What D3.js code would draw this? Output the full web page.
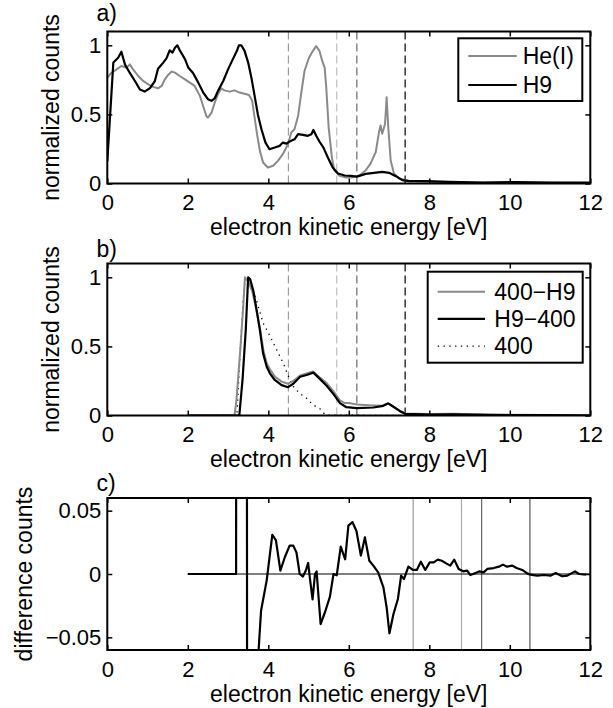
<!DOCTYPE html>
<html>
<head>
<meta charset="utf-8">
<script src="https://cdn.jsdelivr.net/npm/d3@7"></script>
<style>
body { margin: 0; background: #fff; }
svg { font-family: "Liberation Sans", Arial, Helvetica, sans-serif; }
</style>
</head>
<body>
<div id="chart"></div>
<script>
// ---- data ----
const xTicks = [0, 2, 4, 6, 8, 10, 12];
const yTicksAB = [0, 0.5, 1];
const yTicksC = [-0.05, 0, 0.05];

// energies of the vertical marker lines
const markersAB = [4.5, 5.7, 6.2, 7.4];
const markersC = [7.6, 8.8, 9.3, 10.5];

// panel a
const heI = [[0,0.766],[0.1,0.8],[0.23,0.826],[0.35,0.85],[0.48,0.838],[0.56,0.862],[0.64,0.826],[0.77,0.778],
  [0.89,0.742],[1.02,0.718],[1.14,0.699],[1.26,0.689],[1.35,0.706],[1.43,0.754],[1.51,0.786],[1.6,0.81],
  [1.68,0.802],[1.8,0.778],[1.93,0.754],[2.05,0.73],[2.17,0.706],[2.3,0.634],[2.38,0.561],[2.46,0.489],
  [2.5,0.477],[2.59,0.513],[2.67,0.586],[2.75,0.646],[2.83,0.689],[2.91,0.674],[3.04,0.665],[3.16,0.674],
  [3.29,0.658],[3.41,0.65],[3.52,0.641],[3.6,0.598],[3.66,0.477],[3.72,0.357],[3.79,0.236],[3.87,0.152],
  [3.99,0.116],[4.12,0.128],[4.24,0.164],[4.36,0.212],[4.49,0.284],[4.57,0.369],[4.65,0.393],[4.74,0.489],
  [4.82,0.658],[4.9,0.814],[5.01,0.91],[5.11,0.96],[5.19,0.995],[5.27,0.96],[5.34,0.887],[5.4,0.838],
  [5.44,0.694],[5.5,0.405],[5.58,0.188],[5.64,0.096],[5.77,0.055],[5.93,0.043],[6.1,0.045],[6.28,0.06],
  [6.42,0.096],[6.54,0.144],[6.67,0.228],[6.75,0.372],[6.79,0.42],[6.83,0.36],[6.9,0.43],[6.94,0.624],
  [6.98,0.408],[7.04,0.168],[7.12,0.072],[7.25,0.036],[7.5,0.019],[8,0.012],[9,0.008],[10,0.006],
  [11,0.005],[12,0.004]];
const h9 = [[0,0.16],[0.15,0.875],[0.27,0.91],[0.35,0.954],[0.44,0.86],[0.56,0.8],[0.69,0.74],[0.81,0.68],
  [0.93,0.665],[1.06,0.69],[1.18,0.74],[1.26,0.83],[1.39,0.875],[1.47,0.906],[1.55,0.964],[1.62,0.947],
  [1.68,0.983],[1.74,1.0],[1.8,0.964],[1.93,0.9],[2.01,0.84],[2.13,0.8],[2.26,0.73],[2.38,0.66],
  [2.5,0.61],[2.59,0.598],[2.67,0.617],[2.75,0.67],[2.88,0.742],[3.0,0.826],[3.12,0.9],[3.22,0.96],
  [3.27,1.0],[3.33,1.0],[3.41,0.96],[3.5,0.875],[3.58,0.766],[3.66,0.634],[3.74,0.5],[3.83,0.393],
  [3.93,0.296],[4.03,0.248],[4.16,0.26],[4.28,0.272],[4.36,0.296],[4.45,0.289],[4.53,0.304],[4.65,0.32],
  [4.74,0.357],[4.86,0.352],[4.98,0.345],[5.07,0.357],[5.12,0.388],[5.19,0.345],[5.27,0.304],[5.37,0.26],
  [5.48,0.188],[5.6,0.116],[5.73,0.072],[5.9,0.058],[6.05,0.055],[6.2,0.05],[6.42,0.07],[6.83,0.084],
  [7.0,0.077],[7.17,0.053],[7.33,0.024],[7.5,0.017],[7.92,0.017],[8.5,0.012],[9.33,0.007],[10.15,0.01],
  [11,0.007],[12,0.007]];

// panel b
const s400H9 = [[2,0],[3.16,0],[3.21,0.115],[3.31,0.5],[3.38,0.8],[3.42,1.0],[3.5,0.97],[3.6,0.9],[3.7,0.77],
  [3.8,0.62],[3.88,0.47],[3.96,0.38],[4.05,0.33],[4.17,0.28],[4.33,0.245],[4.49,0.23],[4.62,0.25],
  [4.79,0.29],[4.95,0.305],[5.11,0.318],[5.28,0.275],[5.45,0.235],[5.62,0.175],[5.78,0.11],[5.9,0.09],
  [6.0,0.09],[6.2,0.08],[6.5,0.075],[6.8,0.07],[6.98,0.085],[7.1,0.065],[7.27,0.035],[7.4,0.015],
  [8,0.01],[8.6,0.012],[9.5,0.006],[11,0.003],[12,0.002]];
const sH9400 = [[2,0],[3.28,0],[3.36,0.26],[3.44,0.62],[3.5,1.0],[3.55,0.985],[3.63,0.9],[3.71,0.763],
  [3.79,0.62],[3.87,0.45],[3.96,0.353],[4.04,0.305],[4.16,0.257],[4.33,0.22],[4.49,0.205],[4.62,0.23],
  [4.79,0.28],[4.95,0.293],[5.12,0.31],[5.28,0.265],[5.45,0.215],[5.62,0.155],[5.78,0.09],[5.94,0.06],
  [6.2,0.053],[6.61,0.058],[6.86,0.07],[6.98,0.088],[7.1,0.065],[7.27,0.031],[7.4,0.012],[8.03,0.007],
  [8.6,0.008],[9.5,0.004],[10.95,0.002],[12,0]];
const s400 = [[2,0],[3.22,0],[3.3,0.45],[3.38,0.85],[3.43,1.0],[3.5,0.98],[3.58,0.95],[3.71,0.83],
  [3.87,0.67],[4.04,0.576],[4.2,0.48],[4.37,0.38],[4.49,0.29],[4.62,0.21],[4.78,0.16],[4.95,0.125],
  [5.11,0.077],[5.28,0.05],[5.4,0.01],[5.5,0.003],[7.4,0]];

// panel c
const diffC = [[2,0],[3.2,0],[3.21,0.6],[3.46,0.6],[3.48,-0.5],[3.72,-0.08],[3.82,-0.029],[3.96,-0.005],
  [4.10,0.031],[4.19,0.0266],[4.30,0.0026],[4.41,0.0132],[4.53,0.0224],[4.62,0.0224],[4.70,0.017],
  [4.78,0.0],[4.86,-0.002],[4.93,0.0026],[4.99,0.0087],[5.04,-0.005],[5.10,-0.02],[5.16,0.0],[5.2,0.002],
  [5.30,-0.0395],[5.41,-0.030],[5.53,-0.018],[5.62,0],[5.70,-0.001],[5.80,0.0216],[5.91,0.0116],
  [5.99,0.0382],[6.09,0.041],[6.19,0.034],[6.30,0.0145],[6.40,0.0289],[6.51,0.0105],[6.61,0.0066],
  [6.73,0.0013],[6.86,-0.0105],[6.94,-0.0263],[7.01,-0.0468],[7.11,-0.0316],[7.22,-0.0197],[7.30,-0.0013],
  [7.37,-0.004],[7.48,0.0058],[7.59,0.0032],[7.69,0.0032],[7.79,0.0097],[7.90,0.0032],[8.01,0.0092],
  [8.11,0.0092],[8.21,0.0113],[8.31,0.0105],[8.42,0.0084],[8.52,0.0066],[8.62,0.0113],[8.73,0.004],
  [8.84,0.0021],[8.94,0.0026],[9.02,-0.0008],[9.15,0.0008],[9.25,0.0021],[9.35,0.0013],[9.44,0.004],
  [9.60,0.0047],[9.73,0.0058],[9.83,0.0074],[9.93,0.0058],[10.06,0.0066],[10.17,0.0047],[10.31,0.0032],
  [10.43,0.0005],[10.51,-0.0005],[10.68,-0.0013],[10.85,-0.0008],[11.01,-0.0013],[11.14,0.0008],
  [11.3,-0.0018],[11.43,-0.0013],[11.62,0.0021],[11.72,0.0],[11.89,-0.0005]];
const zeroLineC = [[2,0],[12,0]];

// ---- styles ----
const GRAY = "#8a8a8a";
const markerColorsAB = ["#9a9a9a", "#bdbdbd", "#6a6a6a", "#000"];
const markerColorsC = ["#9a9a9a", "#a8a8a8", "#666", "#555"];
const FONT = 23, TICKFONT = 22;

// ---- layout ----
const X0 = 107.3, X1 = 590.3, PH = 152;

const svg = d3.select("#chart").append("svg")
    .attr("width", 613)
    .attr("height", 708);

function makePanel(id, top, yDomain) {
    const x = d3.scaleLinear().domain([0, 12]).range([X0, X1]);
    const y = d3.scaleLinear().domain(yDomain).range([top + PH, top]);
    svg.append("clipPath").attr("id", "clip-" + id)
        .append("rect")
        .attr("x", X0).attr("y", top)
        .attr("width", X1 - X0).attr("height", PH);
    const g = svg.append("g");
    const plot = g.append("g").attr("clip-path", `url(#clip-${id})`);
    return { id, x, y, g, plot, top, bottom: top + PH };
}

function drawLine(p, data, color, width, dash) {
    const line = d3.line().x(d => p.x(d[0])).y(d => p.y(d[1]));
    p.plot.append("path")
        .datum(data)
        .attr("d", line)
        .attr("fill", "none")
        .attr("stroke", color)
        .attr("stroke-width", width)
        .attr("stroke-linejoin", "round")
        .attr("stroke-dasharray", dash || null);
}

function drawMarkers(p, values, colors, dash) {
    p.plot.selectAll(".mk-" + p.id)
        .data(values)
        .enter()
        .append("line")
        .attr("x1", d => p.x(d)).attr("x2", d => p.x(d))
        .attr("y1", p.top).attr("y2", p.bottom)
        .attr("stroke", (d, i) => colors[i])
        .attr("stroke-width", 1.2)
        .attr("stroke-dasharray", dash || null);
}

function styleAxis(a) {
    a.attr("font-family", null).attr("font-size", TICKFONT);
    a.select(".domain").remove();
    a.selectAll(".tick line").attr("stroke-width", 1.5);
    a.selectAll(".tick text").attr("fill", "#000");
}

function drawAxes(p, yTicks, yFmt, yLabel, yLabelX, tag, tagY) {
    p.g.append("g")
        .attr("transform", `translate(0,${p.bottom})`)
        .call(d3.axisBottom(p.x).tickValues(xTicks).tickFormat(d => String(d))
            .tickSize(-5).tickSizeOuter(0).tickPadding(11))
        .call(styleAxis);
    p.g.append("g")
        .attr("transform", `translate(0,${p.top})`)
        .call(d3.axisTop(p.x).tickValues(xTicks).tickFormat("").tickSize(-5).tickSizeOuter(0))
        .call(styleAxis);
    p.g.append("g")
        .attr("transform", `translate(${X0},0)`)
        .call(d3.axisLeft(p.y).tickValues(yTicks).tickFormat(yFmt)
            .tickSize(-5).tickSizeOuter(0).tickPadding(6))
        .call(styleAxis);
    p.g.append("g")
        .attr("transform", `translate(${X1},0)`)
        .call(d3.axisRight(p.y).tickValues(yTicks).tickFormat("").tickSize(-5).tickSizeOuter(0))
        .call(styleAxis);

    p.g.append("rect")
        .attr("x", X0).attr("y", p.top)
        .attr("width", X1 - X0).attr("height", PH)
        .attr("fill", "none").attr("stroke", "#000").attr("stroke-width", 2);

    p.g.append("text")
        .attr("x", (X0 + X1) / 2).attr("y", p.bottom + 51.7)
        .attr("text-anchor", "middle").attr("font-size", FONT)
        .text("electron kinetic energy [eV]");

    p.g.append("text")
        .attr("transform", `translate(${yLabelX},${p.top + PH / 2}) rotate(-90)`)
        .attr("text-anchor", "middle").attr("font-size", FONT)
        .text(yLabel);

    p.g.append("text")
        .attr("x", 96.5).attr("y", tagY)
        .attr("font-size", FONT)
        .text(tag);
}

function drawLegend(p, box, lineX, textX, rows) {
    const lg = p.g.append("g");
    lg.append("rect")
        .attr("x", box[0]).attr("y", box[1])
        .attr("width", box[2] - box[0]).attr("height", box[3] - box[1])
        .attr("fill", "#fff").attr("stroke", "#000").attr("stroke-width", 2);
    rows.forEach(r => {
        lg.append("line")
            .attr("x1", lineX[0]).attr("x2", lineX[1])
            .attr("y1", r.y).attr("y2", r.y)
            .attr("stroke", r.color).attr("stroke-width", r.width)
            .attr("stroke-dasharray", r.dash || null);
        lg.append("text")
            .attr("x", textX).attr("y", r.y + 8)
            .attr("font-size", FONT)
            .text(r.label);
    });
}

const fmtAB = d => String(d);
const fmtC = d => d < 0 ? "\u2212" + String(Math.abs(d)) : String(d);

// ---- panel a ----
const pa = makePanel("a", 31.5, [0, 1.1]);
drawMarkers(pa, markersAB, markerColorsAB, "8,4");
drawLine(pa, heI, GRAY, 2);
drawLine(pa, h9, "#000", 2.2);
drawAxes(pa, yTicksAB, fmtAB, "normalized counts", 58.5, "a)", 20.5);
drawLegend(pa, [458.3, 38.3, 582.3, 101], [468.3, 516.7], 522.7, [
    { label: "He(I)", color: GRAY, width: 2, y: 56 },
    { label: "H9", color: "#000", width: 2.2, y: 85 }
]);

// ---- panel b ----
const pb = makePanel("b", 263.5, [0, 1.1]);
drawMarkers(pb, markersAB, markerColorsAB, "8,4");
drawLine(pb, s400, "#000", 1.3, "1.3,4.5");
drawLine(pb, s400H9, GRAY, 2);
drawLine(pb, sH9400, "#000", 2.2);
drawAxes(pb, yTicksAB, fmtAB, "normalized counts", 58.5, "b)", 257);
drawLegend(pb, [427.7, 271.7, 582.7, 362.7], [437.7, 485], 494.3, [
    { label: "400\u2212H9", color: GRAY, width: 2, y: 291.7 },
    { label: "H9\u2212400", color: "#000", width: 2.2, y: 318.8 },
    { label: "400", color: "#000", width: 1.3, dash: "1.3,4.5", y: 346.2 }
]);

// ---- panel c ----
const pc = makePanel("c", 498, [-0.06, 0.06]);
drawMarkers(pc, markersC, markerColorsC);
drawLine(pc, zeroLineC, "#000", 1);
drawLine(pc, diffC, "#000", 2.2);
drawAxes(pc, yTicksC, fmtC, "difference counts", 31.5, "c)", 490.5);
</script>
</body>
</html>
